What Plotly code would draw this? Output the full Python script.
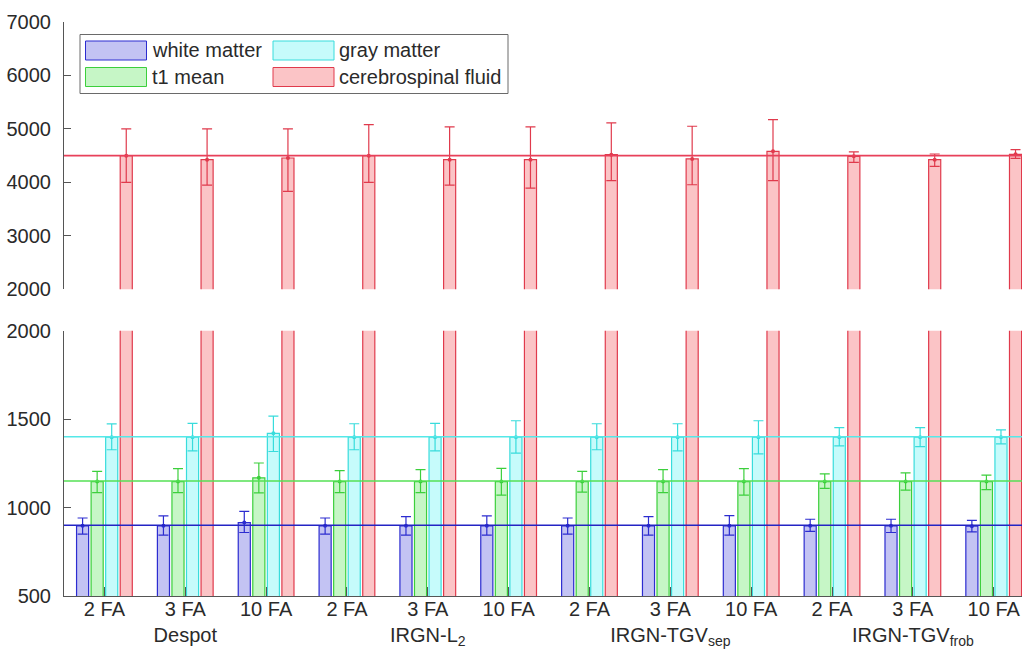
import plotly.graph_objects as go

# ---------------- data ----------------
fa_labels = ["2 FA", "3 FA", "10 FA"] * 4
methods = ["Despot", "IRGN-L<sub>2</sub>", "IRGN-TGV<sub>sep</sub>", "IRGN-TGV<sub>frob</sub>"]
positions = list(range(1, 13))

series_names = ["white matter", "t1 mean", "gray matter", "cerebrospinal fluid"]

wm_mean = [897, 897, 915, 897, 897, 897, 897, 897, 897, 897, 897, 895]
wm_upper = [941, 953, 979, 941, 949, 953, 941, 949, 954, 934, 934, 928]
wm_lower = [850, 844, 859, 850, 844, 844, 850, 844, 844, 865, 859, 862]

t1_mean = [1147, 1147, 1168, 1147, 1147, 1147, 1147, 1147, 1147, 1147, 1147, 1147]
t1_upper = [1205, 1220, 1252, 1209, 1214, 1222, 1205, 1214, 1220, 1190, 1196, 1183]
t1_lower = [1084, 1084, 1083, 1084, 1084, 1070, 1087, 1084, 1070, 1108, 1099, 1102]

gm_mean = [1398, 1398, 1420, 1398, 1398, 1398, 1398, 1398, 1398, 1398, 1398, 1398]
gm_upper = [1473, 1476, 1517, 1474, 1476, 1491, 1474, 1474, 1491, 1452, 1452, 1439]
gm_lower = [1327, 1321, 1317, 1327, 1321, 1308, 1327, 1321, 1304, 1349, 1345, 1360]

csf_mean = [4500, 4425, 4456, 4500, 4425, 4425, 4519, 4438, 4581, 4488, 4425, 4525]
csf_upper = [5000, 5000, 5000, 5081, 5037, 5037, 5112, 5050, 5175, 4569, 4531, 4612]
csf_lower = [4000, 3950, 3831, 4000, 3950, 3894, 4031, 3956, 4031, 4375, 4300, 4450]

reference_values = [900, 1150, 1400, 4500]

top_ticks = [2000, 3000, 4000, 5000, 6000, 7000]
bottom_ticks = [500, 1000, 1500, 2000]

# ---------------- style ----------------
fills = ["#c3c3f3", "#c6f6c6", "#c6fbfb", "#fbc4c6"]
edges = ["#2c2cd0", "#3ccf3c", "#38dcdc", "#e03a4c"]
ref_line_colors = ["#2424c4", "#55e055", "#55e8e8", "#e8405a"]
FONT = "Liberation Sans, Arial, Helvetica, sans-serif"
AX = "#555555"
TXT = "#2a2a2a"

W, H = 1022, 654
ML, MR, MT, MB = 64, 0, 22, 58
PW, PH = W - ML - MR, H - MT - MB

def px_x(px):
    return (px - ML) / PW

def px_y(py):
    return (H - MB - py) / PH

bargap, bargroupgap = 0.28, 0.17
slot = (1 - bargap) / 4

means = [wm_mean, t1_mean, gm_mean, csf_mean]
uppers = [wm_upper, t1_upper, gm_upper, csf_upper]
lowers = [wm_lower, t1_lower, gm_lower, csf_lower]

fig = go.Figure()
for xa, ya in [("x", "y"), ("x2", "y2")]:
    for k in range(4):
        m, u, l = means[k], uppers[k], lowers[k]
        fig.add_trace(go.Bar(
            x=positions, y=m, name=series_names[k], showlegend=False,
            xaxis=xa, yaxis=ya,
            marker=dict(color=fills[k], line=dict(color=edges[k], width=1.2)),
            error_y=dict(type="data", symmetric=False,
                         array=[a - b for a, b in zip(u, m)],
                         arrayminus=[b - c for b, c in zip(m, l)],
                         color=edges[k], thickness=1.2, width=5),
        ))
    for k in range(4):
        off = (k - 1.5) * slot
        fig.add_trace(go.Scatter(
            x=[p + off for p in positions], y=means[k], mode="markers",
            xaxis=xa, yaxis=ya, showlegend=False,
            marker=dict(color=edges[k], size=4), hoverinfo="skip",
        ))

shapes = []
# reference lines
for k, v in enumerate(reference_values):
    yref = "y2" if v > 2000 else "y"
    shapes.append(dict(type="line", xref="x domain", yref=yref, x0=0, x1=1, y0=v, y1=v,
                       line=dict(color=ref_line_colors[k], width=1.6), layer="above"))

# custom legend
shapes.append(dict(type="rect", xref="paper", yref="paper",
                   x0=px_x(80), x1=px_x(508), y0=px_y(93.5), y1=px_y(34.5),
                   line=dict(color="#6a6a6a", width=1), fillcolor="white", layer="above"))
legend_pos = [(85.5, 41), (85.5, 67.5), (273, 41), (273, 67.5)]
legend_order = [0, 1, 2, 3]
annotations = []
for idx, k in enumerate(legend_order):
    sx, sy = legend_pos[idx]
    shapes.append(dict(type="rect", xref="paper", yref="paper",
                       x0=px_x(sx), x1=px_x(sx + 61), y0=px_y(sy + 19), y1=px_y(sy),
                       line=dict(color=edges[k], width=1), fillcolor=fills[k], layer="above"))
    annotations.append(dict(xref="paper", yref="paper", x=px_x(sx + 64), y=px_y(sy + 9.5),
                            text=series_names[k], showarrow=False, xanchor="left", yanchor="middle",
                            font=dict(family=FONT, size=20, color=TXT)))

ticktext = []
for i, lab in enumerate(fa_labels):
    if i % 3 == 1:
        ticktext.append(lab + "<br>" + methods[i // 3])
    else:
        ticktext.append(lab)

axis_common = dict(showgrid=False, zeroline=False, showline=True, linecolor=AX, linewidth=1,
                   ticks="inside", tickcolor=AX, automargin=False,
                   tickfont=dict(family=FONT, size=20, color=TXT))

fig.update_layout(
    width=W, height=H, margin=dict(l=ML, r=MR, t=MT, b=MB, autoexpand=False),
    paper_bgcolor="white", plot_bgcolor="white",
    barmode="group", bargap=bargap, bargroupgap=bargroupgap,
    showlegend=False,
    font=dict(family=FONT, size=20, color=TXT),
    xaxis=dict(domain=[0, 1], anchor="y", range=[0.5, 12.35], tickangle=0,
               tickvals=positions, ticktext=ticktext, ticklen=9, ticklabelstandoff=-5,
               **axis_common),
    yaxis=dict(domain=[0, px_y(330.7)], anchor="x", range=[500, 2000],
               tickvals=bottom_ticks, ticklen=7, ticklabelstandoff=8, **axis_common),
    xaxis2=dict(domain=[0, 1], anchor="y2", range=[0.5, 12.35], matches="x", visible=False),
    yaxis2=dict(domain=[px_y(289.3), 1], anchor="x2", range=[2000, 7000],
                tickvals=top_ticks, ticklen=7, ticklabelstandoff=8, **axis_common),
    shapes=shapes, annotations=annotations,
)

fig.write_html("out.html")
